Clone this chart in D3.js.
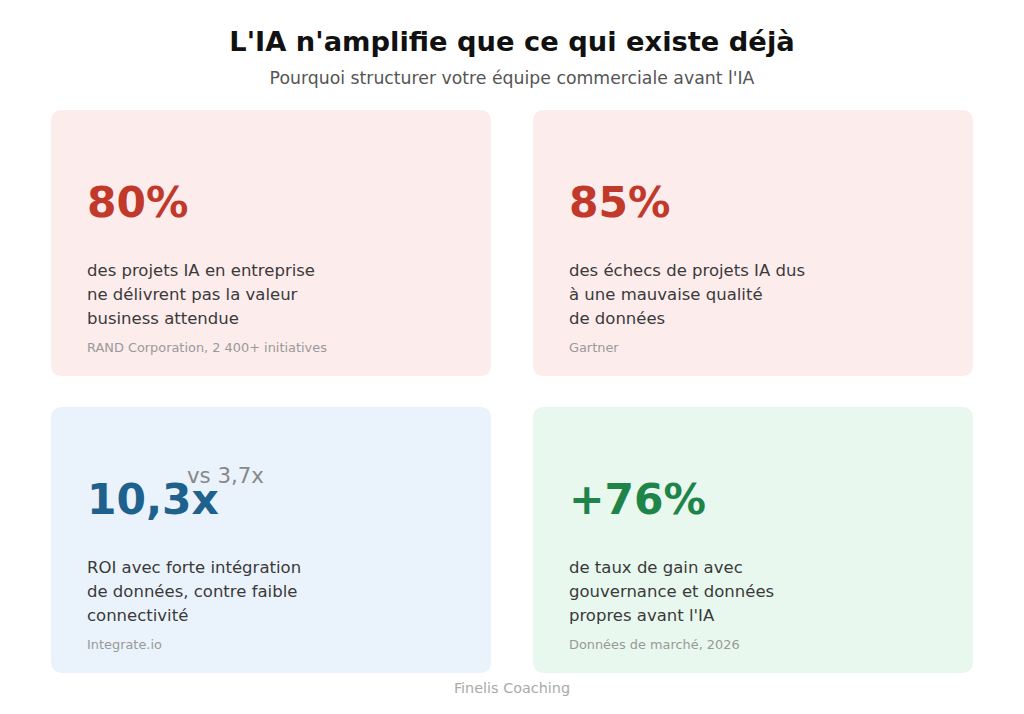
<!DOCTYPE html>
<html>
<head>
<meta charset="utf-8">
<script src="https://cdn.jsdelivr.net/npm/d3@7"></script>
<style>
    html, body { margin: 0; padding: 0; background: #ffffff; }
    svg { display: block; font-family: "DejaVu Sans", sans-serif; }
</style>
</head>
<body>
<div id="chart"></div>
<script>
const titleText = "L'IA n'amplifie que ce qui existe déjà";
const subtitleText = "Pourquoi structurer votre équipe commerciale avant l'IA";
const footerText = "Finelis Coaching";

const statValues = ["80%", "85%", "10,3x", "+76%"];
const statCompare = ["", "", "vs 3,7x", ""];
const statThemes = ["risk", "risk", "roi", "gain"];
const statLines = [
    ["des projets IA en entreprise", "ne délivrent pas la valeur", "business attendue"],
    ["des échecs de projets IA dus", "à une mauvaise qualité", "de données"],
    ["ROI avec forte intégration", "de données, contre faible", "connectivité"],
    ["de taux de gain avec", "gouvernance et données", "propres avant l'IA"],
];
const statSources = [
    "RAND Corporation, 2 400+ initiatives",
    "Gartner",
    "Integrate.io",
    "Données de marché, 2026",
];

function renderStatCards() {
    const outerWidth = 1024;
    const outerHeight = 714;

    const svg = d3.select("#chart")
        .append("svg")
        .attr("width", outerWidth)
        .attr("height", outerHeight)
        .attr("viewBox", `0 0 ${outerWidth} ${outerHeight}`);

    const themeFill = d3.scaleOrdinal()
        .domain(["risk", "roi", "gain"])
        .range(["#fdecec", "#eaf3fb", "#e8f8ef"]);
    const themeInk = d3.scaleOrdinal()
        .domain(["risk", "roi", "gain"])
        .range(["#c0392b", "#1f618d", "#1e8449"]);

    const cards = statValues.map((value, index) => ({
        value,
        compare: statCompare[index],
        theme: statThemes[index],
        lines: statLines[index],
        source: statSources[index],
        col: index % 2,
        row: Math.floor(index / 2),
    }));

    const x = d3.scaleBand()
        .domain([0, 1])
        .range([51, 973])
        .paddingInner(0.087);
    const y = d3.scaleBand()
        .domain([0, 1])
        .range([110, 673])
        .paddingInner(0.104);

    svg.append("text")
        .attr("x", outerWidth / 2)
        .attr("y", 51)
        .attr("text-anchor", "middle")
        .attr("font-size", 27.3)
        .attr("font-weight", "bold")
        .attr("fill", "#111111")
        .text(titleText);

    svg.append("text")
        .attr("x", outerWidth / 2)
        .attr("y", 84)
        .attr("text-anchor", "middle")
        .attr("font-size", 17.3)
        .attr("fill", "#555555")
        .text(subtitleText);

    const card = svg.selectAll(".stat-card")
        .data(cards)
        .enter()
        .append("g")
        .attr("class", "stat-card")
        .attr("transform", (d) => `translate(${x(d.col)}, ${y(d.row)})`);

    card.append("rect")
        .attr("width", x.bandwidth())
        .attr("height", y.bandwidth())
        .attr("rx", 10)
        .attr("fill", (d) => themeFill(d.theme));

    card.append("text")
        .attr("x", 36)
        .attr("y", 107)
        .attr("font-size", 42.4)
        .attr("font-weight", "bold")
        .attr("fill", (d) => themeInk(d.theme))
        .text((d) => d.value);

    card.filter((d) => d.compare)
        .append("text")
        .attr("x", 136)
        .attr("y", 76)
        .attr("font-size", 21.3)
        .attr("fill", "#888888")
        .text((d) => d.compare);

    card.append("text")
        .attr("font-size", 16.5)
        .attr("fill", "#3a3a3a")
        .selectAll("tspan")
        .data((d) => d.lines)
        .enter()
        .append("tspan")
        .attr("x", 36)
        .attr("y", (d, i) => 166 + i * 24)
        .text((d) => d);

    card.append("text")
        .attr("x", 36)
        .attr("y", 242)
        .attr("font-size", 12.9)
        .attr("fill", "#999999")
        .text((d) => d.source);

    svg.append("text")
        .attr("x", outerWidth / 2)
        .attr("y", 693)
        .attr("text-anchor", "middle")
        .attr("font-size", 14.4)
        .attr("fill", "#aaaaaa")
        .text(footerText);
}

renderStatCards();
</script>
</body>
</html>
